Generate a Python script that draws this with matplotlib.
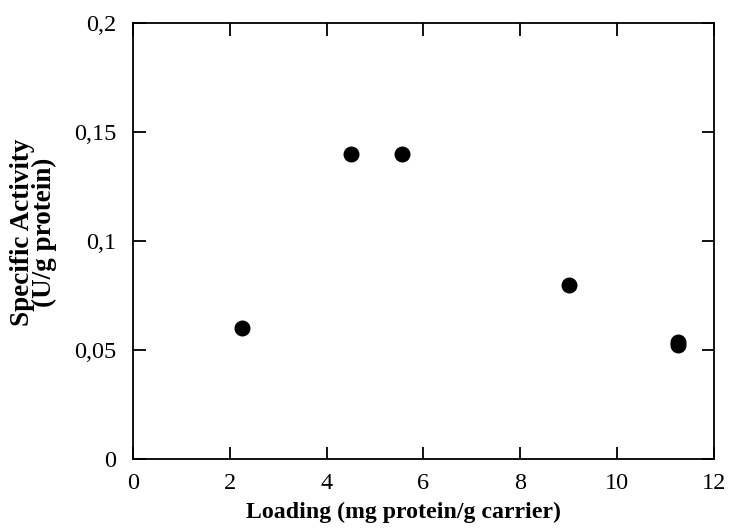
import matplotlib
matplotlib.use("Agg")
import matplotlib.pyplot as plt

loading = [2.25, 4.5, 5.55, 9.0, 11.25, 11.25]
activity = [0.06, 0.14, 0.14, 0.08, 0.0535, 0.0525]
x_ticks = [0, 2, 4, 6, 8, 10, 12]
y_ticks = [0, 0.05, 0.1, 0.15, 0.2]
y_labels = ["0", "0,05", "0,1", "0,15", "0,2"]

plt.rcParams['font.family'] = ['Liberation Serif', 'DejaVu Serif']

fig = plt.figure(figsize=(7.3, 5.28), dpi=100)
ax = fig.add_axes([0.182, 0.1307, 0.796, 0.8257])
ax.plot(loading, activity, 'o', color='black', markersize=10.5, linestyle='none')
ax.set_xlim(0, 12)
ax.set_ylim(0, 0.2)
ax.set_xticks(x_ticks)
ax.set_xticklabels([str(t) for t in x_ticks])
ax.set_yticks(y_ticks)
ax.set_yticklabels(y_labels)
ax.tick_params(direction='in', length=9, width=1.3, top=True, right=True,
               labelsize=17.5)
ax.tick_params(axis='x', pad=10)
ax.tick_params(axis='y', pad=12)
for s in ax.spines.values():
    s.set_linewidth(1.3)
ax.set_xlabel("Loading (mg protein/g carrier)", fontsize=17.2, fontweight='bold')
ax.xaxis.set_label_coords(0.4665, -0.098)
ax.set_ylabel("Specific Activity\n(U/g protein)", fontsize=19.5, fontweight='bold',
              linespacing=0.82)
ax.yaxis.set_label_coords(-0.131, 0.52)
fig.savefig("out.png", dpi=100)
